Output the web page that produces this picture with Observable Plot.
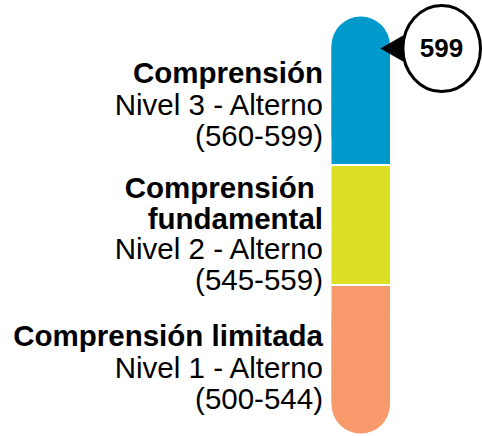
<!DOCTYPE html>
<html>
<head>
<meta charset="utf-8">
<script src="https://cdn.jsdelivr.net/npm/d3@7"></script>
<script src="https://cdn.jsdelivr.net/npm/@observablehq/plot@0.6"></script>
<style>
  html, body { margin: 0; padding: 0; background: #fff; }
  #chart svg { display: block; font-family: "Liberation Sans", Arial, sans-serif; }
  .pre { white-space: pre; }
</style>
</head>
<body>
<div id="chart"></div>
<script>
// Data
const levels = [1, 2, 3];
const titles = ["Comprensión limitada", "Comprensión \nfundamental", "Comprensión"];
const lows = [500, 545, 560];
const highs = [544, 559, 599];
const colors = ["#F7996A", "#DCE024", "#0099CC"];
const score = 599;

const data = levels.map((lv, i) => ({
  level: lv, title: titles[i], lo: lows[i], hi: highs[i], color: colors[i],
  detail: `Nivel ${lv} - Alterno\n(${lows[i]}-${highs[i]})`,
  mid: (lows[i] + highs[i] + 1) / 2
}));
const topSeg = data.filter(d => d.level === 3);
const bottomSeg = data.filter(d => d.level === 1);

const FS = 29.5;
const labelOpts = {x: () => 0, y: "mid", textAnchor: "end", dx: -9, fontSize: FS, lineAnchor: "top", lineHeight: 31 / FS, fill: "#000"};
const dyTitle = {3: -45, 2: -50, 1: -22};
const dyDetail = {3: -13, 2: 11, 1: 10};

const labelMarks = [];
for (const lv of levels) {
  const sub = data.filter(d => d.level === lv);
  labelMarks.push(Plot.text(sub, {...labelOpts, text: "title", fontWeight: "bold", dy: dyTitle[lv], className: "pre"}));
  labelMarks.push(Plot.text(sub, {...labelOpts, text: "detail", dy: dyDetail[lv]}));
}

// slightly tall ellipse for the score bubble
const ellipse = {
  draw(ctx) {
    const a = 38.8, b = 43, k = 0.5523;
    ctx.moveTo(a, 0);
    ctx.bezierCurveTo(a, k * b, k * a, b, 0, b);
    ctx.bezierCurveTo(-k * a, b, -a, k * b, -a, 0);
    ctx.bezierCurveTo(-a, -k * b, -k * a, -b, 0, -b);
    ctx.bezierCurveTo(k * a, -b, a, -k * b, a, 0);
    ctx.closePath();
  }
};

const chart = Plot.plot({
  width: 482,
  height: 436,
  margin: 0,
  x: {domain: [0, 1], range: [331.5, 390], axis: null},
  y: {type: "linear", domain: [500, 545, 560, 600], range: [405, 285, 165, 45], axis: null},
  color: {type: "identity"},
  marks: [
    // rounded caps
    Plot.rect(topSeg, {x1: () => 0, x2: () => 1, y1: "lo", y2: d => d.hi + 1, fill: "color", insetTop: -28.5, insetBottom: 1, rx: 29.25}),
    Plot.rect(bottomSeg, {x1: () => 0, x2: () => 1, y1: "lo", y2: d => d.hi + 1, fill: "color", insetBottom: -28.5, insetTop: 1, rx: 29.25}),
    // square segments
    Plot.rect(data, {x1: () => 0, x2: () => 1, y1: "lo", y2: d => d.hi + 1, fill: "color", insetTop: 1, insetBottom: 1}),
    ...labelMarks,
    // score marker
    Plot.dot([score], {x: () => 1, y: d => d, dx: 5.3, symbol: "triangle", rotate: -90, r: 9.86, fill: "#000", stroke: "none"}),
    Plot.dot([score], {x: () => 1, y: d => d, dx: 51.2, r: 40, symbol: ellipse, fill: "#fff", stroke: "#000", strokeWidth: 3}),
    Plot.text([score], {x: () => 1, y: d => d, dx: 51, text: d => String(d), fontSize: 26, fontWeight: "bold", fill: "#000", textAnchor: "middle", lineAnchor: "middle"})
  ]
});
document.getElementById("chart").appendChild(chart);
</script>
</body>
</html>
